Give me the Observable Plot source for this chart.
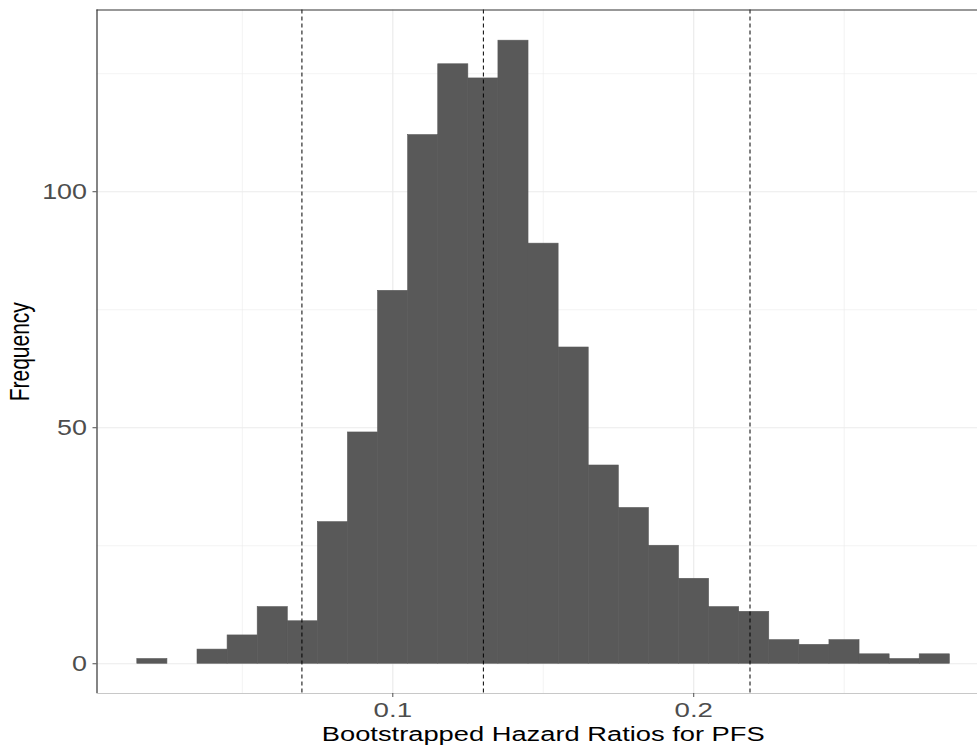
<!DOCTYPE html>
<html><head><meta charset="utf-8">
<script src="https://cdn.jsdelivr.net/npm/d3@7"></script>
<script src="https://cdn.jsdelivr.net/npm/@observablehq/plot@0.6"></script>
<style>body{margin:0;background:#fff}</style>
</head><body><div id="chart"></div>
<script>
// Histogram bins (lower / upper edges) and counts
const binStart = [0.0151,0.0251,0.0351,0.0451,0.0551,0.0651,0.0751,0.0851,0.0951,0.1051,0.1151,0.1251,0.1351,0.1451,0.1551,0.1651,0.1751,0.1851,0.1951,0.2051,0.2151,0.2251,0.2351,0.2451,0.2551,0.2651,0.2751];
const binEnd   = [0.0251,0.0351,0.0451,0.0551,0.0651,0.0751,0.0851,0.0951,0.1051,0.1151,0.1251,0.1351,0.1451,0.1551,0.1651,0.1751,0.1851,0.1951,0.2051,0.2151,0.2251,0.2351,0.2451,0.2551,0.2651,0.2751,0.2851];
const counts   = [1,0,3,6,12,9,30,49,79,112,127,124,132,89,67,42,33,25,18,12,11,5,4,5,2,1,2];
// Dashed reference lines (lower CI, estimate, upper CI)
const refLines = [0.0698, 0.1301, 0.2187];
// Axis ticks and grid
const xTicks = [0.1, 0.2];
const xTickLabels = ["0.1", "0.2"];
const xMinor = [0.05, 0.15, 0.25];
const yTicks = [0, 50, 100];
const yMinor = [25, 75, 125];
const xDomain = [0.0017, 0.2943];
const yDomain = [-6.3, 138.5];
const xTitle = "Bootstrapped Hazard Ratios for PFS";
const yTitle = "Frequency";

const bins = binStart.map((s, i) => ({x1: s, x2: binEnd[i], count: counts[i]})).filter(d => d.count > 0);

const chart = Plot.plot({
  width: 977,
  height: 749,
  marginLeft: 96.5,
  marginTop: 9.5,
  marginBottom: 56,
  marginRight: 0,
  style: {fontFamily: "'Liberation Sans', Arial, sans-serif", fontSize: "20px", background: "#fff"},
  x: {domain: xDomain, label: null},
  y: {domain: yDomain, label: null},
  marks: [
    Plot.ruleX(xMinor, {stroke: "#ebebeb", strokeWidth: 0.6}),
    Plot.ruleY(yMinor, {stroke: "#ebebeb", strokeWidth: 0.6}),
    Plot.ruleX(xTicks, {stroke: "#ebebeb", strokeWidth: 1.2}),
    Plot.ruleY(yTicks, {stroke: "#ebebeb", strokeWidth: 1.2}),
    Plot.rectY(bins, {x1: "x1", x2: "x2", y: "count", fill: "#595959", stroke: "#595959", strokeWidth: 0.6, insetLeft: 0, insetRight: 0}),
    Plot.ruleX(refLines, {stroke: "#000", strokeWidth: 1, strokeDasharray: "4,3"}),
    Plot.ruleX([xDomain[0]], {stroke: "#333", strokeWidth: 1.2}),
    Plot.ruleY([yDomain[1]], {stroke: "#333", strokeWidth: 1.2}),
    Plot.ruleY([yDomain[0]], {stroke: "#c8c8c8", strokeWidth: 1.2}),
    Plot.axisX(xTicks, {tickSize: 4, tickPadding: 5, color: "#4d4d4d", label: null, tickFormat: (d, i) => xTickLabels[i]}),
    Plot.axisY(yTicks, {tickSize: 4, tickPadding: 6, color: "#4d4d4d", label: null}),
    Plot.text([xTitle], {frameAnchor: "bottom", dy: 41, dx: 6, lineAnchor: "middle", textAnchor: "middle", fill: "#000"}),
    Plot.text([yTitle], {frameAnchor: "left", dx: -75, rotate: -90, lineAnchor: "middle", textAnchor: "middle", fill: "#000"})
  ]
});

function toPx(v, size) {
  if (v == null || v === "") return 0;
  if (String(v).endsWith("em")) return parseFloat(v) * size;
  return parseFloat(v) || 0;
}
function stretch(el, size, sx, sy) {
  const x = toPx(el.getAttribute("x"), size), y = toPx(el.getAttribute("y"), size);
  const dx = toPx(el.getAttribute("dx"), size), dy = toPx(el.getAttribute("dy"), size);
  ["x", "y", "dx", "dy"].forEach(a => el.removeAttribute(a));
  const t = el.getAttribute("transform") || "";
  el.setAttribute("transform", `${t} translate(${x + dx},${y + dy}) scale(${sx},${sy})`);
  el.setAttribute("font-size", size);
  el.style.fontSize = size + "px";
  el.style.fontVariant = "normal";
  el.style.fontVariantNumeric = "normal";
}
d3.select(chart).selectAll("text").each(function() {
  const s = this.textContent.trim();
  if (xTickLabels.includes(s)) stretch(this, 20.5, 1.35, 1);
  else if (yTicks.map(String).includes(s)) stretch(this, 21.5, 1.25, 1);
  else if (s === xTitle) stretch(this, 21, 1.3, 1);
  else if (s === yTitle) stretch(this, 21, 1, 1.3);
});

document.getElementById("chart").appendChild(chart);
</script>
</body></html>
